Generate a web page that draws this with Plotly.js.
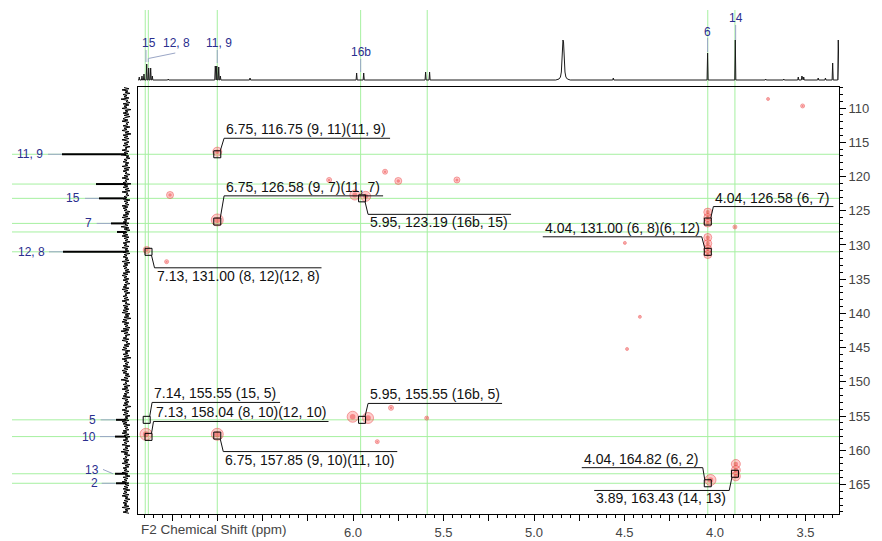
<!DOCTYPE html>
<html><head><meta charset="utf-8">
<script src="https://cdn.plot.ly/plotly-3.0.1.min.js"></script>
<style>html,body{margin:0;padding:0;background:#fff}#chart{width:882px;height:541px}</style>
</head><body><div id="chart"></div>
<script>
// ---------- DATA ----------
// 1H projection (top): stick peaks (ppm, height)
const hPeakPpm    = [7.181, 7.166, 7.155, 7.140, 7.129, 7.118, 7.109, 7.021, 6.761, 6.753, 6.742, 6.733, 6.569, 5.980, 5.941, 5.599, 5.577, 4.562, 4.041, 3.888, 3.72, 3.62, 3.54, 3.52, 3.51, 3.43, 3.39, 3.350, 3.319];
const hPeakHeight = [3, 4, 6, 16, 12, 12, 4, 1, 14, 14, 13, 4, 2, 7, 7, 8, 8, 2, 27, 40, 1, 1, 3, 4, 3, 2, 2, 17, 40];
// broad exchangeable peak near 4.84 ppm (ppm, height)
const broadPpm    = [4.880, 4.862, 4.854, 4.849, 4.846, 4.843, 4.840, 4.837, 4.834, 4.829, 4.824, 4.816, 4.800];
const broadHeight = [0, 1, 3, 8, 20, 38, 40, 38, 20, 8, 3, 1, 0];

// 13C projection (left): peaks (ppm, height)
const cPeakPpm    = [116.75, 121.1, 123.19, 126.85, 128.1, 131.0, 155.55, 158.0, 163.43, 164.82];
const cPeakHeight = [64, 30, 27, 15, 9, 63, 10, 11, 11, 10];
// 13C projection noise amplitudes (hand-read band)
const cNoise = [2,-3,4,-2,1,-4,3,-1,2,-3,5,-2,0,-4,3,-3,2,-1,4,-5,1,-2,3,-3,2,-4,1,3,-2,4,-3,0,-2,3,-4,2,-1,4,-3,1,-5,3,-2,2,-3,4,-1,-3,2,-2,3,-4,1,-1,4,-3,2,-2,5,-3,0,-4,2,-1,3,-3,1,-2,4,-4,2,-3,3,-1,1,-4,2,-2,4,-3,1,-1,3,-5,2,-2,3,-3,1,-4,4,-2,0,-3,2,-1,3,-4,2,-2,1,-3,4,-2,3,-1,2,-4,1,-3,3,-2,4,-4,2,-1,3,-3,1,-2,5,-3,2,-4,1,-1,3,-2,4,-3,2,-2,1,-4,3,-1,2,-3,4,-2,1,-3,3,-4,2,-1,3,-2,1,-3,4,-4,2,-2,3,-1,2,-3,1,-4,3,-2,4,-1,2,-3,3,-2,1,-4,2,-1,3,-3,4,-2,2,-4,1,-1,3,-2,2,-3,4,-1,1,-4,3,-2,2,-3,
  3,-2,4,-4,1,-3,2,-5,3,-1,4,-3,2,-2,1,-4,3,-3,5,-2,2,-4,1,-1,3,-3,4,-2,0,-4,2,-3,3,-1,4,-4,1,-2,3,-3,2,-5,4,-1,2,-3,1,-2,3,-4,2,-2,4,-1,3,-3,1,-4,2,-2,5,-3,1,-1,3,-4,2,-2,4,-3,1,-3,2,-1,3,-4,4,-2,1,-3,2,-2,3,-5,1,-1,4,-3,2,-2,3,-4,1,-2,2,-3,4,-1,3,-4,2,-2,1,-3,3,-1,4,-3,2,-4,1,-2,3,-3,2,-1,4,-4,1,-2,3,-3,5,-2,2,-4,1,-1,3,-3,2,-2,4,-4,1,-3,3,-1,2,-3,4,-2,1,-4,3,-2,2,-1,4,-3,1,-3,2,-2,3,-4,2,-1,3,-3,4,-2,1,-4,2,-2,3,-1,2,-3,4,-4,1,-2,3,-3];

// Cross peaks (F2 ppm, F1 ppm, relative size)
const cpX = [6.75, 6.75, 7.14, 5.99, 5.93, 4.04, 4.04, 4.04, 4.04, 4.04, 4.04, 4.04, 7.144, 6.75, 6.002, 5.917, 4.025, 3.885, 3.885, 3.885,
             7.011, 6.132, 5.823, 5.750, 5.426, 7.03, 5.790, 5.593, 5.866, 3.707, 3.516, 3.89, 4.498, 4.415, 4.486];
const cpY = [116.37, 126.35, 130.73, 122.7, 122.9, 125.2, 126.0, 126.8, 128.9, 129.8, 130.6, 131.4, 157.66, 157.66, 155.1, 155.28, 164.34, 162.0, 162.9, 163.8,
             122.7, 120.5, 119.3, 120.65, 120.5, 132.44, 153.8, 155.3, 158.74, 108.67, 109.69, 127.37, 129.7, 140.5, 145.2];
const cpSize = [9, 12, 7, 10, 10, 8, 8, 8, 8, 8, 8, 8, 12, 12, 11, 11, 11, 9, 9, 9,
                7, 5, 5, 7, 6, 4, 5, 4, 4, 3, 4, 4, 3, 3, 3];

// Annotated correlations
const annX = [6.75, 6.75, 7.13, 5.95, 4.04, 4.04, 7.14, 7.13, 6.75, 5.95, 4.04, 3.89];
const annY = [116.75, 126.58, 131.00, 123.19, 126.58, 131.00, 155.55, 158.04, 157.85, 155.55, 164.82, 163.43];
const annText = ["6.75, 116.75 (9, 11)(11, 9)", "6.75, 126.58 (9, 7)(11, 7)", "7.13, 131.00 (8, 12)(12, 8)", "5.95, 123.19 (16b, 15)",
  "4.04, 126.58 (6, 7)", "4.04, 131.00 (6, 8)(6, 12)", "7.14, 155.55 (15, 5)", "7.13, 158.04 (8, 10)(12, 10)",
  "6.75, 157.85 (9, 10)(11, 10)", "5.95, 155.55 (16b, 5)", "4.04, 164.82 (6, 2)", "3.89, 163.43 (14, 13)"];

// Assignment guide lines
const vLinePpm = [7.148, 7.131, 6.75, 5.958, 5.59, 4.04, 3.89];
const hLinePpm = [116.75, 121.1, 123.19, 126.85, 128.1, 131.0, 155.55, 158.0, 163.43, 164.82];

// Proton labels (top)
const topLabels = ["15", "12, 8", "11, 9", "16b", "6", "14"];
const topLabelPpm = [7.126, 6.978, 6.741, 5.958, 4.041, 3.886];
// Carbon labels (left)
const leftLabels = ["11, 9", "15", "7", "12, 8", "5", "10", "13", "2"];
const leftLabelPpm = [116.75, 123.19, 126.85, 131.0, 155.55, 158.0, 162.9, 164.82];

const xTickVals = [3.5, 3.75, 4.0, 4.25, 4.5, 4.75, 5.0, 5.25, 5.5, 5.75, 6.0, 6.25, 6.5, 6.75, 7.0];
const xTickText = ["3.5", "", "4.0", "", "4.5", "", "5.0", "", "5.5", "", "6.0", "", "", "", ""];

// ---------- LAYOUT GEOMETRY (pixels) ----------
const W = 882, H = 541;
const px = v => v / W, py = v => (H - v) / H;
const FONT = "Liberation Sans, Arial, sans-serif";
const BLUE = "#2a2e8e", CONN = "#9aa6c6", GREEN = "#a6f0a0";

const topLabelV = [36.7, 36.7, 36.7, 27.7, 47.7, 62.3];
const topConn = [
  [7.144, 30, 7.144, 18], [6.982, 27, 7.131, 21.5], [7.131, 21.5, 7.131, 18],
  [6.75, 30, 6.75, 17], [5.958, 21, 5.958, 8], [4.041, 42, 4.041, 28], [3.886, 55, 3.886, 40]];
const leftLabelCx = [30, 73.3, 88.3, 31.7, 92.7, 89.3, 91.7, 94];
const leftConn = [[48, 62, 116.75, 116.75], [85, 99, 123.19, 123.19], [96.7, 111, 126.85, 126.85], [49, 63, 131.0, 131.0],
  [100.7, 115.7, 155.55, 155.55], [100, 115, 158.0, 158.0], [103, 113, 162.8, 163.43], [101.7, 115.7, 164.82, 164.82]];

const annGeom = [
  [6.8, -16, 166, 'R', 'up'], [6.8, -25.7, 159, 'R', 'up'], [6, 16, 167, 'R', 'down'], [6, 16, 143, 'R', 'down'],
  [5.6, -15, 120, 'R', 'up'], [-6, -15, 159, 'L', 'up'], [5.4, -17.4, 128, 'R', 'up'], [5, -15.4, 175, 'R', 'up'],
  [6, 16, 174, 'R', 'down'], [6, -16.4, 134, 'R', 'up'], [-5, -15.6, 121, 'L', 'up'], [-5.7, 16.7, 135, 'L', 'down']];

// ---------- BUILD TRACES ----------
let pts = [];
hPeakPpm.forEach((p, i) => { pts.push([p + 0.003, 0], [p, hPeakHeight[i]], [p - 0.003, 0]); });
broadPpm.forEach((p, i) => pts.push([p, broadHeight[i]]));
pts.push([7.19, 0], [3.314, 0]);
pts.sort((a, b) => b[0] - a[0]);
const topTrace = { x: pts.map(p => p[0]), y: pts.map(p => p[1]), xaxis: 'x', yaxis: 'y2', mode: 'lines',
  line: { color: '#1a1a1a', width: 1 }, hoverinfo: 'skip' };

const yTop = 107.0, yBot = 169.2;
const noiseY = cNoise.map((_, i) => yTop + (yBot - yTop) * i / (cNoise.length - 1));
const noiseTrace = { x: cNoise, y: noiseY, xaxis: 'x3', yaxis: 'y', mode: 'lines',
  line: { color: '#000', width: 1 }, hoverinfo: 'skip' };
let sx = [], sy = [];
cPeakPpm.forEach((p, i) => { sx.push(0, cPeakHeight[i], null); sy.push(p, p, null); });
const stickTrace = { x: sx, y: sy, xaxis: 'x3', yaxis: 'y', mode: 'lines', line: { color: '#000', width: 2 }, hoverinfo: 'skip' };

const blobTrace = { x: cpX, y: cpY, xaxis: 'x', yaxis: 'y', mode: 'markers', hoverinfo: 'skip',
  marker: { size: cpSize, color: 'rgba(255,110,110,0.5)', line: { color: 'rgba(230,40,40,0.6)', width: 1 } } };
const coreTrace = { x: cpX, y: cpY, xaxis: 'x', yaxis: 'y', mode: 'markers', hoverinfo: 'skip',
  marker: { size: cpSize.map(s => s * 0.5), color: 'rgba(230,40,40,0.6)', line: { width: 0 } } };
const boxTrace = { x: annX, y: annY, xaxis: 'x', yaxis: 'y', mode: 'markers', hoverinfo: 'skip',
  marker: { symbol: 'square-open', size: 7, color: '#000', line: { width: 1, color: '#000' } } };

// ---------- SHAPES & ANNOTATIONS ----------
const shapes = [], annotations = [];
vLinePpm.forEach(v => shapes.push({ type: 'line', xref: 'x', yref: 'paper', x0: v, x1: v, y0: py(514), y1: py(10),
  line: { color: GREEN, width: 1 }, layer: 'below' }));
hLinePpm.forEach(v => shapes.push({ type: 'line', xref: 'paper', yref: 'y', x0: px(12), x1: px(839), y0: v, y1: v,
  line: { color: GREEN, width: 1 }, layer: 'below' }));

topConn.forEach(c => shapes.push({ type: 'line', xref: 'x', yref: 'y2', x0: c[0], y0: c[1], x1: c[2], y1: c[3],
  line: { color: CONN, width: 1 } }));
topLabels.forEach((t, i) => annotations.push({ text: t, xref: 'x', yref: 'y2', x: topLabelPpm[i], y: topLabelV[i],
  showarrow: false, font: { family: FONT, size: 12, color: BLUE } }));

leftConn.forEach(c => shapes.push({ type: 'line', xref: 'x3', yref: 'y', x0: 126 - c[0], x1: 126 - c[1], y0: c[2], y1: c[3],
  line: { color: CONN, width: 1 } }));
leftLabels.forEach((t, i) => annotations.push({ text: t, xref: 'x3', yref: 'y', x: 126 - leftLabelCx[i], y: leftLabelPpm[i],
  showarrow: false, font: { family: FONT, size: 12, color: BLUE } }));

annText.forEach((t, i) => {
  const [ex, ey, L, side, pos] = annGeom[i];
  const sx0 = ex > 0 ? 3 : -3, sy0 = ey < 0 ? -3.5 : 3.5;
  const base = { type: 'line', xref: 'x', yref: 'y', xsizemode: 'pixel', ysizemode: 'pixel',
    xanchor: annX[i], yanchor: annY[i], line: { color: '#111', width: 1 } };
  shapes.push(Object.assign({}, base, { x0: sx0, y0: -sy0, x1: ex, y1: -ey }));
  const u0 = side === 'R' ? ex : ex - L, u1 = side === 'R' ? ex + L : ex;
  shapes.push(Object.assign({}, base, { x0: u0, y0: -ey, x1: u1, y1: -ey }));
  annotations.push({ text: t, xref: 'x', yref: 'y', x: annX[i], y: annY[i], showarrow: false,
    xanchor: 'left', yanchor: pos === 'up' ? 'bottom' : 'top', xshift: u0 + 1, yshift: pos === 'up' ? -ey : -ey + 1,
    borderpad: 0, font: { family: FONT, size: 14, color: '#111' } });
});

annotations.push({ text: 'F2 Chemical Shift (ppm)', xref: 'paper', yref: 'paper', x: px(139), y: py(529),
  xanchor: 'left', yanchor: 'middle', showarrow: false, font: { family: FONT, size: 13.5, color: '#444' } });

const layout = {
  width: W, height: H, margin: { l: 0, r: 0, t: 0, b: 0 },
  paper_bgcolor: '#fff', plot_bgcolor: 'rgba(0,0,0,0)', showlegend: false, hovermode: false,
  xaxis: { domain: [px(138), px(839)], range: [7.188, 3.315], anchor: 'y', showgrid: false, zeroline: false,
    showline: true, mirror: true, linecolor: '#000', linewidth: 1,
    ticks: 'outside', ticklen: 6, tickcolor: '#000', tickvals: xTickVals, ticktext: xTickText,
    tickfont: { family: FONT, size: 13, color: '#444' },
    minor: { dtick: 0.05, tick0: 0, ticks: 'outside', ticklen: 3, tickcolor: '#000', showgrid: false } },
  yaxis: { domain: [py(514), py(87)], range: [169.31, 106.92], anchor: 'x', side: 'right', showgrid: false, zeroline: false,
    showline: true, mirror: true, linecolor: '#000', linewidth: 1,
    ticks: 'outside', ticklen: 6, tickcolor: '#000', dtick: 5, tick0: 0,
    tickfont: { family: FONT, size: 13, color: '#444' },
    minor: { dtick: 1, tick0: 0, ticks: 'outside', ticklen: 3, tickcolor: '#000', showgrid: false } },
  yaxis2: { domain: [py(82), py(10)], range: [-2, 70], anchor: 'x', visible: false, fixedrange: true },
  xaxis3: { domain: [0, px(136)], range: [126, -10], anchor: 'y', visible: false },
  shapes: shapes, annotations: annotations
};

Plotly.newPlot('chart', [topTrace, noiseTrace, stickTrace, blobTrace, coreTrace, boxTrace], layout,
  { displayModeBar: false, staticPlot: true });
</script></body></html>
